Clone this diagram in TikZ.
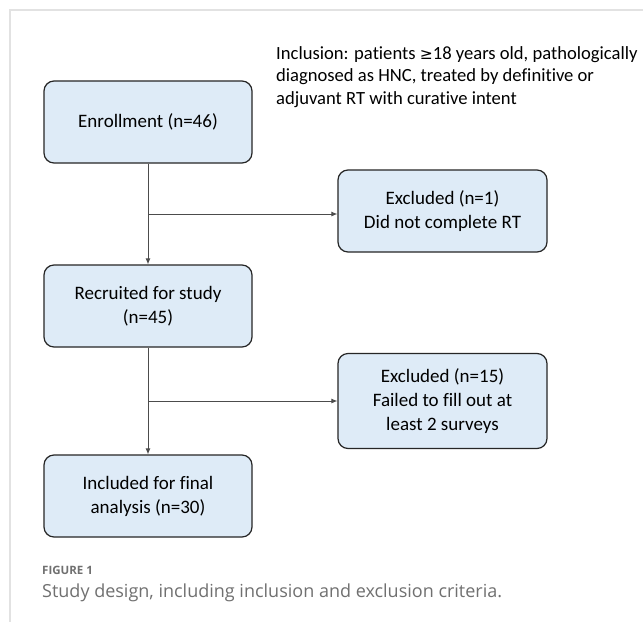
\documentclass[tikz,border=0pt]{standalone}
\usepackage{fontspec}
\setmainfont[Ligatures=CommonOff]{Carlito}
\newfontfamily\capfont{Open Sans}
\newfontfamily\symfont{DejaVu Sans}
\usetikzlibrary{arrows.meta}
\definecolor{boxfill}{HTML}{DEEBF7}
\definecolor{framegray}{HTML}{E2E2E2}
\definecolor{capgray}{HTML}{707070}
\tikzset{
  flowbox/.style={draw=black!85, line width=1.2pt, fill=boxfill, rounded corners=10pt,
    align=center, font=\fontsize{19}{24}\selectfont, inner sep=0pt},
  flowline/.style={draw=black!70, line width=0.9pt},
  flowarrow/.style={flowline, -{Latex[length=6pt,width=5pt]}},
}
\begin{document}
\begin{tikzpicture}[x=1pt,y=-1pt]
\useasboundingbox (0,0) rectangle (643,622);
\fill[white] (0,0) rectangle (643,622);
% frame
\draw[framegray, line width=1.2pt] (10,622) -- (10,10) -- (643,10);
% boxes
\node[flowbox, minimum width=208pt, minimum height=82pt] (enroll) at (148,122) {Enrollment (n=46)};
\node[flowbox, minimum width=208pt, minimum height=82pt] (recruit) at (148,306) {Recruited for study\\(n=45)};
\node[flowbox, minimum width=208pt, minimum height=82pt] (incl) at (148,496) {Included for final\\analysis (n=30)};
\node[flowbox, minimum width=209pt, minimum height=82pt] (ex1) at (442.5,211) {Excluded (n=1)\\Did not complete RT};
\node[flowbox, minimum width=209pt, minimum height=95pt] (ex2) at (442.5,401) {Excluded (n=15)\\Failed to fill out at\\least 2 surveys};
% inclusion text
\node[anchor=base west, align=left, inner sep=0pt, font=\fontsize{18.6}{22.5}\selectfont] (crit) at (276,104)
  {Inclusion: patients {\symfont\fontsize{15.5}{22.5}\selectfont≥}18 years old, pathologically\\diagnosed as HNC, treated by definitive or\\adjuvant RT with curative intent};
% connectors
\coordinate (b1) at (148,214);
\coordinate (b2) at (148,401);
\draw[flowarrow] (enroll.south) -- (recruit.north);
\draw[flowarrow] (b1) -- (b1 -| ex1.west);
\draw[flowarrow] (recruit.south) -- (incl.north);
\draw[flowarrow] (b2) -- (b2 -| ex2.west);
% caption
\node[anchor=base west, inner sep=0pt, text=capgray, font=\capfont\bfseries\fontsize{11.5}{14}\selectfont] (figlabel) at (42,574) {FIGURE 1};
\node[anchor=base west, inner sep=0pt, text=capgray, font=\capfont\fontsize{18}{20}\selectfont] (caption) at (42,597) {Study design, including inclusion and exclusion criteria.};
\end{tikzpicture}
\end{document}
